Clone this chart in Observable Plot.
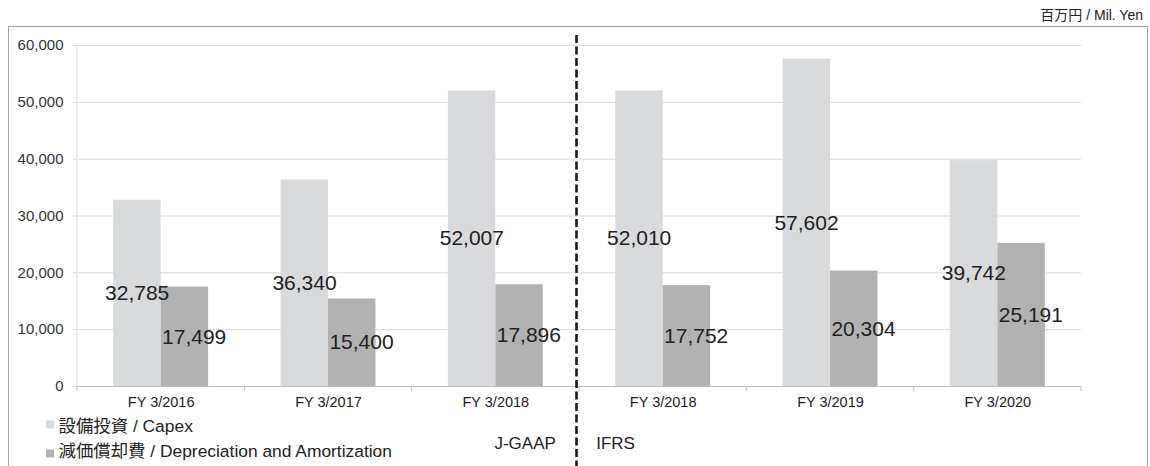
<!DOCTYPE html>
<html>
<head>
<meta charset="utf-8">
<script src="https://cdn.jsdelivr.net/npm/d3@7"></script>
<script src="https://cdn.jsdelivr.net/npm/@observablehq/plot@0.6"></script>
<style>
  html, body { margin: 0; padding: 0; background: #fff; overflow: hidden; width: 1150px; height: 466px; }
  body { font-family: "Liberation Sans", Arial, "Noto Sans CJK JP", sans-serif; color: #333; position: relative; }
  #unit { position: absolute; right: 7px; top: 6px; font-size: 14px; line-height: 18px; color: #222; }
  #frame { position: absolute; left: 8px; top: 26px; width: 1138px; height: 460px;
           border: 1px solid #a6a6a6; border-bottom: none; }
  #frame svg { display: block; }
</style>
</head>
<body>
<div id="unit">百万円 / Mil. Yen</div>
<div id="frame"></div>
<script>
// ---- data ----
const years = ["FY 3/2016", "FY 3/2017", "FY 3/2018", "FY 3/2018", "FY 3/2019", "FY 3/2020"];
const standards = ["J-GAAP", "J-GAAP", "J-GAAP", "IFRS", "IFRS", "IFRS"];
const capex = [32785, 36340, 52007, 52010, 57602, 39742];
const depreciation = [17499, 15400, 17896, 17752, 20304, 25191];
const yTicks = [0, 10000, 20000, 30000, 40000, 50000, 60000];
const seriesNames = ["設備投資 / Capex", "減価償却費 / Depreciation and Amortization"];
const seriesColors = ["#d9dadc", "#b2b2b2"];

const keys = d3.range(years.length);
const rows = keys.map(i => ({key: i, year: years[i], std: standards[i], capex: capex[i], dep: depreciation[i]}));
const fmt = d3.format(",");
const font = `"Liberation Sans", Arial, "Noto Sans CJK JP", sans-serif`;

// custom lines: y-axis line, category boundary ticks, J-GAAP / IFRS separator
function boundaries(index, scales, values, dimensions) {
  const x = scales.x, y = scales.y;
  const step = x(1) - x(0);
  const g = d3.create("svg:g");
  const y0 = y(0), yTop = y(d3.max(yTicks));
  g.append("line").attr("x1", x(0)).attr("x2", x(0)).attr("y1", yTop).attr("y2", y0)
    .attr("stroke", "#d9d9d9");
  for (let i = 0; i <= keys.length; i++) {
    const bx = x(0) + i * step;
    g.append("line").attr("x1", bx).attr("x2", bx).attr("y1", y0).attr("y2", y0 + 5)
      .attr("stroke", "#bfbfbf");
  }
  const first = standards.indexOf("IFRS");
  const sx = x(0) + first * step - 2.5;
  g.append("line").attr("x1", sx).attr("x2", sx).attr("y1", yTop - 10).attr("y2", dimensions.height)
    .attr("stroke", "#1a1a1a").attr("stroke-width", 2.6).attr("stroke-dasharray", "8,3.5");
  return g.node();
}

const chart = Plot.plot({
  width: 1138,
  height: 439,
  marginLeft: 68,
  marginRight: 66,
  marginTop: 18,
  marginBottom: 80,
  style: {fontFamily: font, color: "#333", background: "#fff", overflow: "visible"},
  x: {domain: keys, padding: 0, round: false},
  y: {domain: [0, 60000]},
  marks: [
    Plot.gridY(yTicks, {stroke: "#d9d9d9", strokeOpacity: 1}),
    Plot.axisY(yTicks, {tickSize: 4, tickPadding: 10, stroke: "#d9d9d9", color: "#333",
                        tickFormat: fmt, fontSize: 15, label: null}),
    Plot.barY(rows, {x: "key", y: "capex", fill: seriesColors[0], insetLeft: 36.2, insetRight: 83.7}),
    Plot.barY(rows, {x: "key", y: "dep", fill: seriesColors[1], insetLeft: 83.7, insetRight: 36.2}),
    Plot.ruleY([0], {stroke: "#bfbfbf"}),
    Plot.axisX({tickSize: 0, tickPadding: 10, tickFormat: i => years[i], fontSize: 14.5, label: null, color: "#222"}),
    boundaries,
    Plot.text(rows, {x: "key", y: d => d.capex / 2, text: d => fmt(d.capex), dx: -24, fontSize: 21, fill: "#222"}),
    Plot.text(rows, {x: "key", y: d => d.dep / 2, text: d => fmt(d.dep), dx: 33, fontSize: 21, fill: "#222"}),
    // legend
    Plot.text([seriesNames[0]], {frameAnchor: "bottom-left", dx: -19, dy: 45, textAnchor: "start", fontSize: 17.4, fill: "#222"}),
    Plot.text([seriesNames[1]], {frameAnchor: "bottom-left", dx: -19, dy: 70, textAnchor: "start", fontSize: 17.4, fill: "#222"}),
    Plot.dot([seriesColors[0]], {frameAnchor: "bottom-left", dx: -27.5, dy: 38, symbol: "square", r: 4.5, fill: seriesColors[0]}),
    Plot.dot([seriesColors[1]], {frameAnchor: "bottom-left", dx: -27.5, dy: 67, symbol: "square", r: 4.5, fill: seriesColors[1]}),
    // accounting standard labels
    Plot.text([standards[2]], {x: [2], frameAnchor: "bottom", dx: 60, dy: 62, textAnchor: "end", fontSize: 17, fill: "#222"}),
    Plot.text([standards[3]], {x: [3], frameAnchor: "bottom", dx: -67, dy: 62, textAnchor: "start", fontSize: 17, fill: "#222"})
  ]
});
document.getElementById("frame").appendChild(chart);
</script>
</body>
</html>
